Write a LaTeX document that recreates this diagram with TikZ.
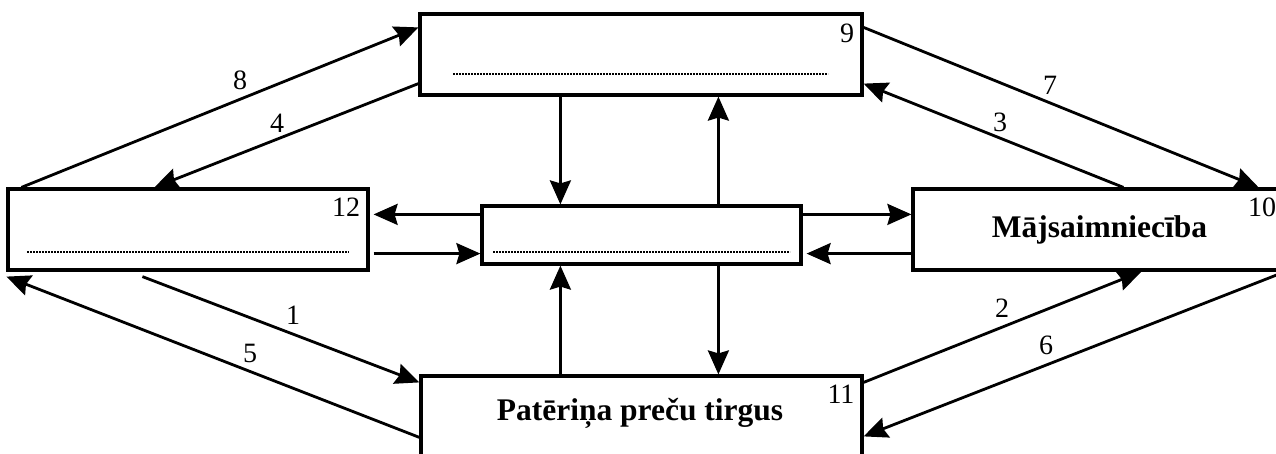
\documentclass[tikz,border=0pt]{standalone}
\usepackage{fontspec}
\setmainfont{Liberation Serif}
\usetikzlibrary{arrows.meta,calc}
\tikzset{
  box/.style={draw, line width=3.2pt, rectangle, inner sep=0pt, fill=white},
  arr/.style={line width=2.8pt, -{Stealth[length=24pt,width=21pt,inset=3pt]}},
  num/.style={font=\fontsize{28}{28}\selectfont, inner sep=0pt},
  big/.style={font=\fontsize{31.5}{31.5}\selectfont\bfseries, inner sep=0pt},
  dots/.style={line width=2.6pt, dash pattern=on 1.6pt off 1.4pt}
}
\begin{document}
\begin{tikzpicture}[x=1pt,y=-1pt]
\clip (0,0) rectangle (1276,453);
\fill[white] (0,0) rectangle (1276,453);
% boxes
\node[box, minimum width=442pt, minimum height=81pt] (top) at (641,54.5) {};
\node[box, minimum width=360pt, minimum height=81pt] (lbox) at (188,229.5) {};
\node[box, minimum width=319pt, minimum height=58pt] (mid) at (641.5,235) {};
\node[box, minimum width=373pt, minimum height=81pt, big] (rbox) at (1099.5,229.5) {Mājsaimniecība};
\node[box, minimum width=441pt, minimum height=100pt] (bot) at (641.5,426) {};
\node[big] (botlabel) at (640,413) {Patēriņa preču tirgus};
% dotted lines
\draw[dots] (453,74) -- (828,74);
\draw[dots] (27,252) -- (349,252);
\draw[dots] (493,252) -- (790,252);
% corner numbers
\node[num] (n9) at (847,33) {9};
\node[num] (n12) at (346,207) {12};
\node[num] (n10) at (1262,207) {10};
\node[num] (n11) at (841,394) {11};
% diagonal arrows
\draw[arr] ($(lbox.north west)+(15,0)$) -- ($(top.north west)+(0,15)$);
\draw[arr] ($(top.south west)+(0,-13)$) -- ($(lbox.north west)+(148,0)$);
\draw[arr] ($(top.north east)+(0,15)$) -- ($(rbox.north east)+(-29,0)$);
\draw[arr] ($(rbox.north west)+(212,0)$) -- ($(top.south east)+(0,-13)$);
\draw[arr] ($(lbox.south west)+(136,5)$) -- ($(bot.north west)+(0,8)$);
\draw[arr] ($(bot.north west)+(0,63)$) -- ($(lbox.south west)+(0,5)$);
\draw[arr] ($(bot.north east)+(0,8)$) -- ($(rbox.south west)+(230,0)$);
\draw[arr] ($(rbox.south east)+(-10,3)$) -- ($(bot.north east)+(0,62)$);
% arrow labels
\node[num] (l8) at (240,80) {8};
\node[num] (l4) at (277,123) {4};
\node[num] (l7) at (1050,85) {7};
\node[num] (l3) at (1000,122) {3};
\node[num] (l1) at (293,315) {1};
\node[num] (l5) at (250,353) {5};
\node[num] (l2) at (1002,308) {2};
\node[num] (l6) at (1046,345) {6};
% vertical arrows
\draw[arr] ($(top.south west)+(142,0)$) -- ($(mid.north west)+(80,0)$);
\draw[arr] ($(mid.north west)+(238,0)$) -- ($(top.south west)+(300,0)$);
\draw[arr] ($(bot.north west)+(141,0)$) -- ($(mid.south west)+(80,0)$);
\draw[arr] ($(mid.south west)+(238,0)$) -- ($(bot.north west)+(299,0)$);
% horizontal arrows
\draw[arr] ($(mid.north west)+(0,10)$) -- ($(lbox.north east)+(4,27)$);
\draw[arr] ($(lbox.south east)+(4,-18)$) -- ($(mid.south west)+(0,-12)$);
\draw[arr] ($(mid.north east)+(0,10)$) -- ($(rbox.north west)+(0,27)$);
\draw[arr] ($(rbox.south west)+(0,-18)$) -- ($(mid.south east)+(4,-12)$);
\end{tikzpicture}
\end{document}
